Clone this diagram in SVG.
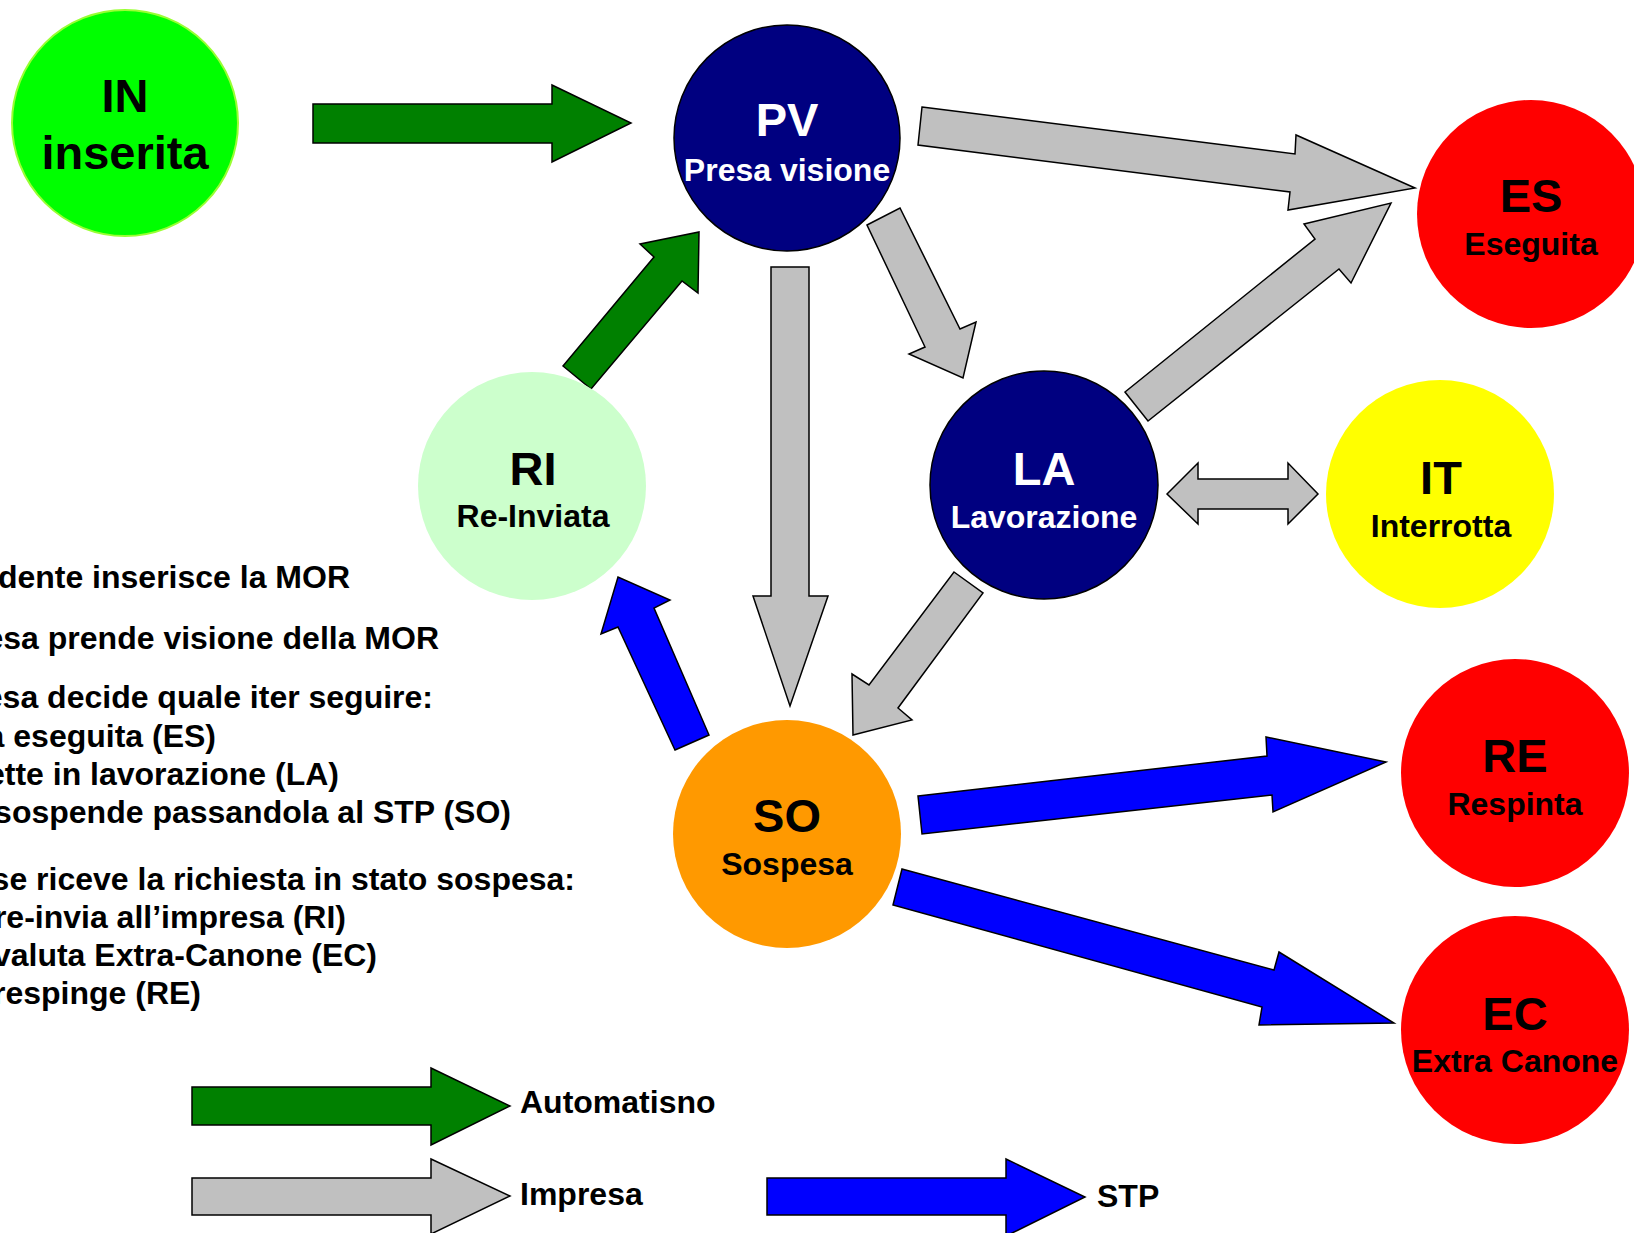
<svg xmlns="http://www.w3.org/2000/svg" width="1634" height="1233" viewBox="0 0 1634 1233">
<style>
text{font-family:"Liberation Sans",Arial,sans-serif;font-weight:bold}
.t{font-size:47px;text-anchor:middle}
.s{font-size:32px;text-anchor:middle}
.d{font-size:32px;text-anchor:end;fill:#000}
.l{font-size:32px;fill:#000}
.w{fill:#fff}
.k{fill:#000}
.ag{fill:#008000;stroke:#000;stroke-width:1.5;stroke-linejoin:miter}
.ay{fill:#C0C0C0;stroke:#000;stroke-width:1.5;stroke-linejoin:miter}
.ab{fill:#0000FF;stroke:#000;stroke-width:1.5;stroke-linejoin:miter}
</style>
<rect width="1634" height="1233" fill="#fff"/>

<g id="connectors">
<polygon class="ag" points="313,104 552,104 552,85 631,123 552,162 552,143 313,143"/>
<polygon class="ag" points="563,366 654,257 640,244 699,232 698,293 682,281 591,389"/>
<polygon class="ay" points="922,107 1295,154 1296,135 1415,188 1288,210 1290,192 918,145"/>
<polygon class="ay" points="867,225 900,208 960,329 976,322 963,378 909,354 925,347"/>
<polygon class="ay" points="1125,392 1315,239 1304,224 1391,203 1351,283 1339,269 1148,421"/>
<polygon class="ay" points="1167,494 1198,463 1198,479 1288,479 1288,463 1318,494 1288,524 1288,509 1198,509 1198,524"/>
<polygon class="ay" points="771,267 809,267 809,596 828,596 790,706 753,596 771,596"/>
<polygon class="ay" points="954,572 983,593 898,708 912,720 853,735 852,674 869,685"/>
<polygon class="ab" points="675,750 709,735 654,608 670,600 618,577 601,634 618,627"/>
<polygon class="ab" points="918,796 1267,756 1266,737 1386,762 1273,812 1272,795 922,834"/>
<polygon class="ab" points="902,869 1274,970 1279,952 1394,1023 1259,1025 1262,1007 893,905"/>
</g>

<g id="IN">
<circle cx="125" cy="123" r="113" fill="#00FF00" stroke="#99FF33" stroke-width="2"/>
<text class="t k" x="125" y="112">IN</text>
<text class="t k" x="125" y="169">inserita</text>
</g>
<g id="PV">
<circle cx="787" cy="138" r="113" fill="#000080" stroke="#000" stroke-width="1.5"/>
<text class="t w" x="787" y="136">PV</text>
<text class="s w" x="787" y="181">Presa visione</text>
</g>
<g id="ES">
<circle cx="1531" cy="214" r="114" fill="#FF0000"/>
<text class="t k" x="1531" y="212">ES</text>
<text class="s k" x="1531" y="255">Eseguita</text>
</g>
<g id="RI">
<circle cx="532" cy="486" r="114" fill="#CCFFCC"/>
<text class="t k" x="533" y="485">RI</text>
<text class="s k" x="533" y="527">Re-Inviata</text>
</g>
<g id="LA">
<circle cx="1044" cy="485" r="114" fill="#000080" stroke="#000" stroke-width="1.5"/>
<text class="t w" x="1044" y="485">LA</text>
<text class="s w" x="1044" y="528">Lavorazione</text>
</g>
<g id="IT">
<circle cx="1440" cy="494" r="114" fill="#FFFF00"/>
<text class="t k" x="1441" y="494">IT</text>
<text class="s k" x="1441" y="537">Interrotta</text>
</g>
<g id="SO">
<circle cx="787" cy="834" r="114" fill="#FF9900"/>
<text class="t k" x="787" y="832">SO</text>
<text class="s k" x="787" y="875">Sospesa</text>
</g>
<g id="RE">
<circle cx="1515" cy="773" r="114" fill="#FF0000"/>
<text class="t k" x="1515" y="772">RE</text>
<text class="s k" x="1515" y="815">Respinta</text>
</g>
<g id="EC">
<circle cx="1515" cy="1030" r="114" fill="#FF0000"/>
<text class="t k" x="1515" y="1030">EC</text>
<text class="s k" x="1515" y="1072">Extra Canone</text>
</g>

<g id="description">
<text class="d" x="350" y="588">dente inserisce la MOR</text>
<text class="d" x="439" y="649">esa prende visione della MOR</text>
<text class="d" x="433" y="708">esa decide quale iter seguire:</text>
<text class="d" x="216" y="747">a eseguita (ES)</text>
<text class="d" x="339" y="785">ette in lavorazione (LA)</text>
<text class="d" x="511" y="823">sospende passandola al STP (SO)</text>
<text class="d" x="575" y="890">se riceve la richiesta in stato sospesa:</text>
<text class="d" x="346" y="928">re-invia all’impresa (RI)</text>
<text class="d" x="377" y="966">valuta Extra-Canone (EC)</text>
<text class="d" x="201" y="1004">respinge (RE)</text>
</g>

<g id="legend">
<polygon class="ag" points="192,1087 431,1087 431,1068 510,1106 431,1145 431,1125 192,1125"/>
<text class="l" x="520" y="1113">Automatisno</text>
<polygon class="ay" points="192,1178 431,1178 431,1159 510,1196 431,1234 431,1215 192,1215"/>
<text class="l" x="520" y="1205">Impresa</text>
<polygon class="ab" points="767,1178 1006,1178 1006,1159 1085,1197 1006,1236 1006,1215 767,1215"/>
<text class="l" x="1097" y="1207">STP</text>
</g>
</svg>
